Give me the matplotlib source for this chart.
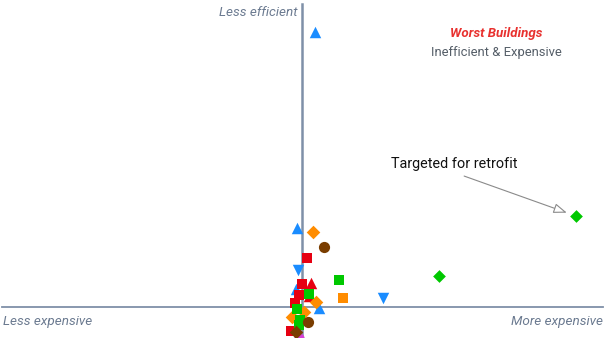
import matplotlib.pyplot as plt

# cost vs energy use, both as % above the portfolio median
blue_up_x = [-1.7, -2.2, 6.3, 4.7]
blue_up_y = [28.6, 6.4, -0.25, 100.0]
blue_down_x = [-1.6, 29.7]
blue_down_y = [13.5, 3.2]
red_sq_x = [1.7, 0.1, -1.0, -2.4, -4.1]
red_sq_y = [17.7, 8.4, 4.4, 1.6, -8.6]
red_up_x = [3.3, 2.7]
red_up_y = [8.6, 4.0]
orange_d_x = [4.1, 5.1, 0.7, -3.5]
orange_d_y = [27.4, 1.9, -1.7, -3.7]
orange_sq_x = [15.1]
orange_sq_y = [3.4]
green_sq_x = [13.6, 2.7, -1.9, -0.7, -1.0]
green_sq_y = [9.8, 4.7, -0.7, -4.7, -6.5]
green_d_x = [100.0, 50.0]
green_d_y = [33.1, 11.3]
brown_c_x = [8.1, 2.3]
brown_c_y = [21.9, -5.3]
brown_d_x = [-2.3]
brown_d_y = [-9.2]
pink_x = [-1.0]
pink_y = [-11.2]

plt.rcParams['font.family'] = ['Roboto', 'DejaVu Sans']

fig = plt.figure(figsize=(6.11, 3.38), dpi=100)
ax = fig.add_axes([0, 0, 1, 1])
ax.set_xlim(-110.2, 112.8)
ax.set_ylim(-11.27, 111.6)
ax.axis('off')

axis_col = '#7f90a8'
ax.plot([-109.5, 109.7], [0, 0], color=axis_col, lw=1.3, zorder=1)
ax.plot([0, 0], [-11.27, 110.2], color=axis_col, lw=1.8, zorder=1)

blue = '#1a8cff'
red = '#e60012'
orange = '#ff8c00'
green = '#00c800'
brown = '#7a3d00'
pink = '#d53fd5'

ax.scatter(blue_up_x, blue_up_y, marker='^', s=68, color=blue, lw=0, zorder=3)
ax.scatter(blue_down_x, blue_down_y, marker='v', s=68, color=blue, lw=0, zorder=3)
ax.scatter(red_sq_x, red_sq_y, marker='s', s=44, color=red, lw=0, zorder=3)
ax.scatter(red_up_x, red_up_y, marker='^', s=68, color=red, lw=0, zorder=3)
ax.scatter(orange_d_x, orange_d_y, marker='D', s=48, color=orange, lw=0, zorder=3)
ax.scatter(orange_sq_x, orange_sq_y, marker='s', s=44, color=orange, lw=0, zorder=3)
ax.scatter(green_sq_x, green_sq_y, marker='s', s=44, color=green, lw=0, zorder=3)
ax.scatter(green_d_x, green_d_y, marker='D', s=42, color=green, lw=0, zorder=3)
ax.scatter(brown_c_x, brown_c_y, marker='o', s=65, color=brown, lw=0, zorder=3)
ax.scatter(brown_d_x, brown_d_y, marker='D', s=48, color=brown, lw=0, zorder=3)
ax.scatter(pink_x, pink_y, marker='o', s=55, color=pink, lw=0, zorder=2)

label_col = '#6b7a90'
ax.text(-1.5, 106.9, 'Less efficient', ha='right', va='center',
        style='italic', fontsize=9.7, color=label_col)
ax.text(-109.1, -5.1, 'Less expensive', ha='left', va='center',
        style='italic', fontsize=9.7, color=label_col)
ax.text(109.9, -5.1, 'More expensive', ha='right', va='center',
        style='italic', fontsize=9.7, color=label_col)

ax.text(70.8, 99.6, 'Worst Buildings', ha='center', va='center',
        style='italic', weight='bold', fontsize=9.6, color='#e8312f')
ax.text(70.8, 92.4, 'Inefficient & Expensive', ha='center', va='center',
        fontsize=9.4, color='#555e68')

ax.text(32.5, 52.0, 'Targeted for retrofit', ha='left', va='center',
        fontsize=10.4, color='#111111')
ax.annotate('', xy=(green_d_x[0], green_d_y[0]), xytext=(59.2, 47.6),
            arrowprops=dict(arrowstyle='-|>,head_length=0.8,head_width=0.3',
                            color='#8a8a8a', fc='white', lw=0.8,
                            shrinkA=0, shrinkB=7))

fig.savefig('out.png', dpi=100)
